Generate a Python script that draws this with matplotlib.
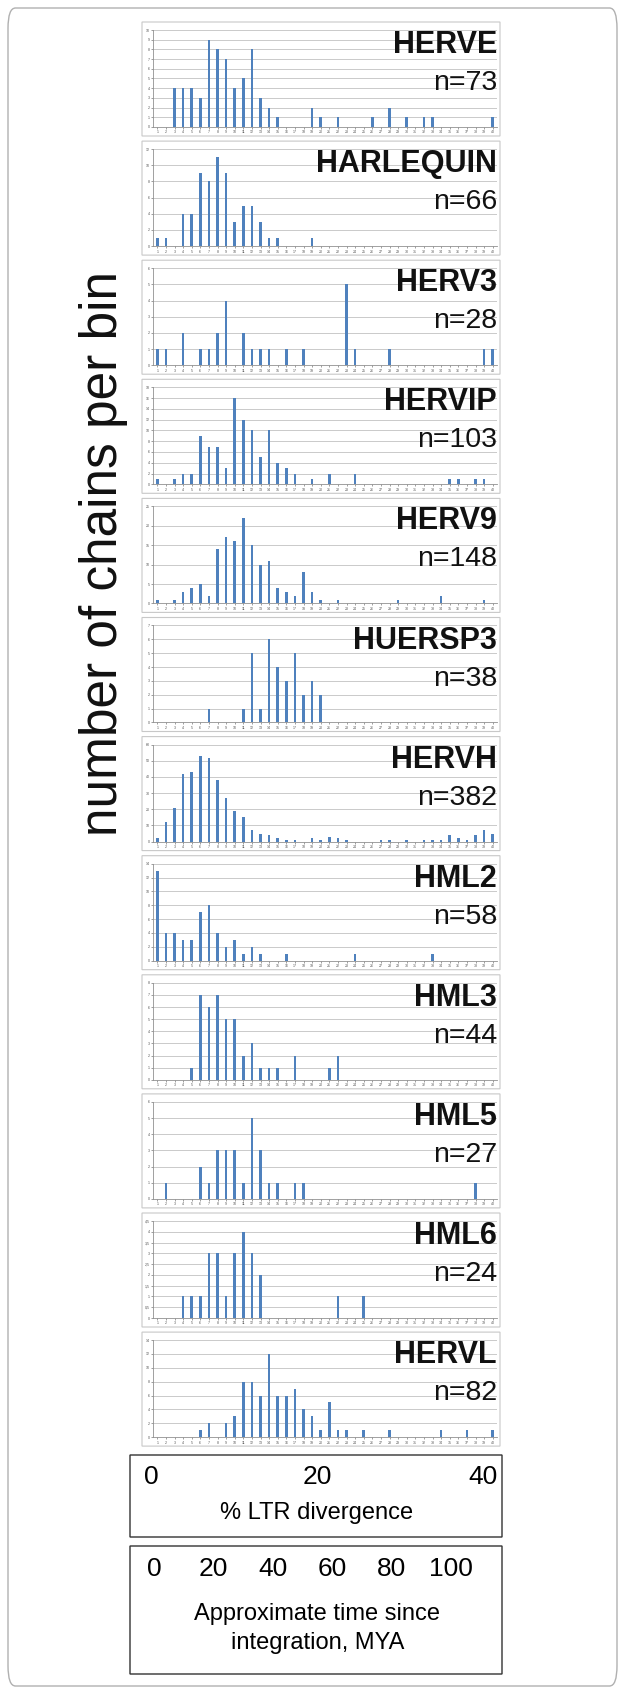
import matplotlib
matplotlib.use("Agg")
import matplotlib.pyplot as plt
from matplotlib.patches import FancyBboxPatch
from matplotlib.ticker import FuncFormatter

plt.rcParams['font.family'] = ['Liberation Sans', 'DejaVu Sans']

bins = list(range(1, 41))

herve = [0, 0, 4, 4, 4, 3, 9, 8, 7, 4, 5, 8, 3, 2, 1, 0, 0, 0, 2, 1,
         0, 1, 0, 0, 0, 1, 0, 2, 0, 1, 0, 1, 1, 0, 0, 0, 0, 0, 0, 1]
harlequin = [1, 1, 0, 4, 4, 9, 8, 11, 9, 3, 5, 5, 3, 1, 1, 0, 0, 0, 1, 0,
             0, 0, 0, 0, 0, 0, 0, 0, 0, 0, 0, 0, 0, 0, 0, 0, 0, 0, 0, 0]
herv3 = [1, 1, 0, 2, 0, 1, 1, 2, 4, 0, 2, 1, 1, 1, 0, 1, 0, 1, 0, 0,
         0, 0, 5, 1, 0, 0, 0, 1, 0, 0, 0, 0, 0, 0, 0, 0, 0, 0, 1, 1]
hervip = [1, 0, 1, 2, 2, 9, 7, 7, 3, 16, 12, 10, 5, 10, 4, 3, 2, 0, 1, 0,
          2, 0, 0, 2, 0, 0, 0, 0, 0, 0, 0, 0, 0, 0, 1, 1, 0, 1, 1, 0]
herv9 = [1, 0, 1, 3, 4, 5, 2, 14, 17, 16, 22, 15, 10, 11, 4, 3, 2, 8, 3, 1,
         0, 1, 0, 0, 0, 0, 0, 0, 1, 0, 0, 0, 0, 2, 0, 0, 0, 0, 1, 0]
huersp3 = [0, 0, 0, 0, 0, 0, 1, 0, 0, 0, 1, 5, 1, 6, 4, 3, 5, 2, 3, 2,
           0, 0, 0, 0, 0, 0, 0, 0, 0, 0, 0, 0, 0, 0, 0, 0, 0, 0, 0, 0]
hervh = [2, 12, 21, 42, 43, 53, 52, 38, 27, 19, 15, 7, 5, 4, 2, 1, 1, 0, 2, 1,
         3, 2, 1, 0, 0, 0, 1, 1, 0, 1, 0, 1, 1, 1, 4, 2, 1, 4, 7, 5]
hml2 = [13, 4, 4, 3, 3, 7, 8, 4, 2, 3, 1, 2, 1, 0, 0, 1, 0, 0, 0, 0,
        0, 0, 0, 1, 0, 0, 0, 0, 0, 0, 0, 0, 1, 0, 0, 0, 0, 0, 0, 0]
hml3 = [0, 0, 0, 0, 1, 7, 6, 7, 5, 5, 2, 3, 1, 1, 1, 0, 2, 0, 0, 0,
        1, 2, 0, 0, 0, 0, 0, 0, 0, 0, 0, 0, 0, 0, 0, 0, 0, 0, 0, 0]
hml5 = [0, 1, 0, 0, 0, 2, 1, 3, 3, 3, 1, 5, 3, 1, 1, 0, 1, 1, 0, 0,
        0, 0, 0, 0, 0, 0, 0, 0, 0, 0, 0, 0, 0, 0, 0, 0, 0, 1, 0, 0]
hml6 = [0, 0, 0, 1, 1, 1, 3, 3, 1, 3, 4, 3, 2, 0, 0, 0, 0, 0, 0, 0,
        0, 1, 0, 0, 1, 0, 0, 0, 0, 0, 0, 0, 0, 0, 0, 0, 0, 0, 0, 0]
hervl = [0, 0, 0, 0, 0, 1, 2, 0, 2, 3, 8, 8, 6, 12, 6, 6, 7, 4, 3, 1,
         5, 1, 1, 0, 1, 0, 0, 1, 0, 0, 0, 0, 0, 1, 0, 0, 1, 0, 0, 1]

names = ["HERVE", "HARLEQUIN", "HERV3", "HERVIP", "HERV9", "HUERSP3",
         "HERVH", "HML2", "HML3", "HML5", "HML6", "HERVL"]
counts = [73, 66, 28, 103, 148, 38, 382, 58, 44, 27, 24, 82]
series = [herve, harlequin, herv3, hervip, herv9, huersp3,
          hervh, hml2, hml3, hml5, hml6, hervl]
ymax = [10, 12, 6, 18, 25, 7, 60, 14, 8, 6, 4.5, 14]
ystep = [1, 2, 1, 2, 5, 1, 10, 2, 1, 1, 0.5, 2]

div_ticks = [0, 20, 40]
mya_ticks = [0, 20, 40, 60, 80, 100]

W, H = 625, 1694
fig = plt.figure(figsize=(W / 100, H / 100), dpi=100)


def fx(x):
    return x / W


def fy(y):
    return 1 - y / H


def rect(x0, y0, x1, y1, color, lw, pad=0.0):
    p = FancyBboxPatch((fx(x0), fy(y1)), fx(x1) - fx(x0), fy(y0) - fy(y1),
                       boxstyle="round,pad=0,rounding_size=%f" % pad,
                       transform=fig.transFigure, fill=False,
                       edgecolor=color, linewidth=lw)
    fig.patches.append(p)


# outer frame
rect(8, 8, 617, 1686, '#b0b0b0', 1.0, pad=0.012)

bar_color = '#4f81bd'
comma = FuncFormatter(lambda v, pos: ('%g' % v).replace('.', ','))

pitch = 119.1
for k in range(12):
    T = 22 + pitch * k
    rect(142, T, 500, T + 114, '#c8c8c8', 0.8)
    ax = fig.add_axes([fx(153), fy(T + 105), fx(497) - fx(153), fy(T + 8) - fy(T + 105)])
    ax.bar(bins, series[k], width=0.32, color=bar_color, zorder=3)
    ax.set_xlim(0.5, 40.5)
    ax.set_ylim(0, ymax[k])
    n_ticks = int(round(ymax[k] / ystep[k]))
    yt = [i * ystep[k] for i in range(n_ticks + 1)]
    ax.set_yticks(yt)
    ax.yaxis.set_major_formatter(comma)
    ax.set_xticks(bins)
    ax.tick_params(axis='both', labelsize=2.6, length=1.5, width=0.4,
                   colors='#555555', pad=1)
    ax.grid(axis='y', color='#b5b5b5', linewidth=0.5, zorder=0)
    for s in ['top', 'right']:
        ax.spines[s].set_visible(False)
    for s in ['left', 'bottom']:
        ax.spines[s].set_color('#909090')
        ax.spines[s].set_linewidth(0.6)
    ax.set_facecolor('none')
    fig.text(fx(497), fy(T + 31), names[k], ha='right', va='baseline',
             fontsize=22, fontweight='bold', color='#111111')
    fig.text(fx(497), fy(T + 68), "n=%d" % counts[k], ha='right',
             va='baseline', fontsize=20.5, color='#111111')

fig.text(fx(104), fy(553), "number of chains per bin", rotation=90,
         ha='center', va='center', fontsize=37, color='#111111')

# % LTR divergence box
b1_top, b1_bot = 1455, 1537
rect(130, b1_top, 502, b1_bot, '#333333', 1.0)
axd = fig.add_axes([fx(130), fy(b1_bot), fx(502) - fx(130), fy(b1_top) - fy(b1_bot)])
axd.set_xlim(-2.53, 42.3)
axd.set_ylim(b1_bot, b1_top)
axd.axis('off')
for t in div_ticks:
    axd.text(t, b1_top + 22, str(t), ha='center', va='center', fontsize=19)
axd.text(20, b1_top + 58, "% LTR divergence", ha='center', va='center', fontsize=17)

# time box
b2_top, b2_bot = 1546, 1674
rect(130, b2_top, 502, b2_bot, '#333333', 1.0)
axt = fig.add_axes([fx(130), fy(b2_bot), fx(502) - fx(130), fy(b2_top) - fy(b2_bot)])
axt.set_xlim(-8.1, 117.2)
axt.set_ylim(b2_bot, b2_top)
axt.axis('off')
for t in mya_ticks:
    axt.text(t, b2_top + 23, str(t), ha='center', va='center', fontsize=19)
axt.text(55, b2_top + 68, "Approximate time since", ha='center', va='center', fontsize=17)
axt.text(55, b2_top + 97, "integration, MYA", ha='center', va='center', fontsize=17)

fig.savefig("out.png", dpi=100)
